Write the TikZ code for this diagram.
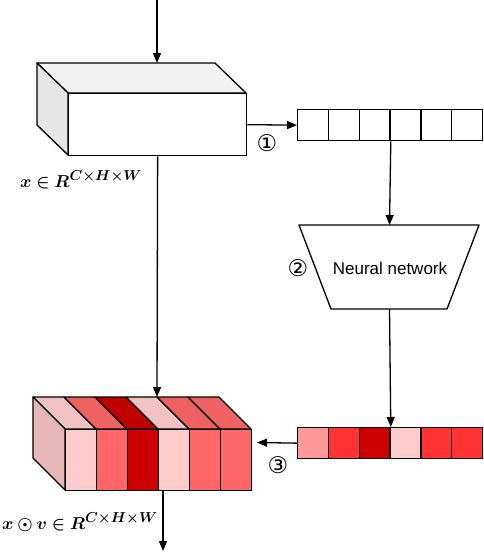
\documentclass[tikz,border=0pt]{standalone}
\usepackage{amsmath,bm}
\usepackage{fontspec}
\newfontfamily\arialf{Liberation Sans}
\newfontfamily\djv{DejaVu Sans}
\usetikzlibrary{arrows.meta}
\definecolor{topgray}{HTML}{F2F2F2}
\definecolor{sidegray}{HTML}{E6E6E6}
\definecolor{cA}{HTML}{FFCCCC}
\definecolor{cB}{HTML}{FF6666}
\definecolor{cC}{HTML}{CC0000}
\definecolor{tA}{HTML}{F2C2C2}
\definecolor{tB}{HTML}{EE6262}
\definecolor{tC}{HTML}{C00000}
\definecolor{sideRed}{HTML}{E6B8B8}
\definecolor{vA}{HTML}{FF9999}
\definecolor{vB}{HTML}{FF3333}
\definecolor{vC}{HTML}{CC0000}
\definecolor{vD}{HTML}{FFCCCC}
\tikzset{
  ln/.style={draw=black, line width=1.3pt},
  arr/.style={ln, -{Triangle[length=10pt,width=8pt]}},
  cell/.style={ln, minimum width=30.83pt, minimum height=31pt, inner sep=0pt, anchor=north west},
  stripe/.style={ln, minimum width=31pt, minimum height=61pt, inner sep=0pt, anchor=north west},
  face/.style={ln, line join=round},
  circ/.style={font=\djv\fontsize{23}{23}\selectfont, inner sep=0pt},
  mathlbl/.style={font=\fontsize{19}{22}\selectfont, inner sep=0pt},
}
\begin{document}
\begin{tikzpicture}[x=1pt,y=-1pt]
\useasboundingbox (0,0) rectangle (484,554);
% ---------- top cube ----------
\draw[face, fill=topgray] (68,93) -- (37,63) -- (215,63) -- (246,93) -- cycle;
\draw[face, fill=sidegray] (68,93) -- (37,63) -- (37,125) -- (68,155) -- cycle;
\node[ln, fill=white, minimum width=178pt, minimum height=62pt, inner sep=0pt, anchor=north west] (box1) at (68,93) {};
\coordinate (in) at (157,0);
\coordinate (b1top) at (157,63);
\draw[arr] (in) -- (b1top);
\node[mathlbl, anchor=base west] (lbl1) at (20,187) {$\boldsymbol{x\in R^{C\times H\times W}}$};
% ---------- top vector ----------
\foreach \i in {1,...,6} {
  \node[cell, fill=white] (u\i) at ({297+(\i-1)*30.83},109) {};
}
\draw[arr] (box1.east) -- (u1.west);
\node[circ] (n1) at (267,143) {①};
% ---------- neural network ----------
\coordinate (nntop) at (389.5,225);
\coordinate (nnbot) at (389.5,309);
\draw[face, fill=white] (299,225) -- (479,225) -- (447,309) -- (331,309) -- cycle;
\node[font=\arialf\fontsize{17}{17}\selectfont, inner sep=0pt] (nn) at (390,268) {Neural network};
\node[circ] (n2) at (298,268) {②};
\draw[arr] (u3.south east) -- (nntop);
% ---------- bottom vector ----------
\foreach \i/\c in {1/vA,2/vB,3/vC,4/vD,5/vB,6/vB} {
  \node[cell, fill=\c] (w\i) at ({297+(\i-1)*30.83},427) {};
}
\draw[arr] (nnbot) -- (w3.north east);
\coordinate (b3end) at (257,442.5);
\draw[arr] (w1.west) -- (b3end);
\node[circ] (n3) at (278,465) {③};
% ---------- bottom cube ----------
\foreach \i/\c in {1/tA,2/tB,3/tC,4/tA,5/tB,6/tB} {
  \draw[face, fill=\c] ({65+(\i-1)*31},429) -- ({33+(\i-1)*31},397) -- ({33+\i*31},397) -- ({65+\i*31},429) -- cycle;
}
\draw[face, fill=sideRed] (65,429) -- (33,397) -- (33,458) -- (65,490) -- cycle;
\foreach \i/\c in {1/cA,2/cB,3/cC,4/cA,5/cB,6/cB} {
  \node[stripe, fill=\c] (s\i) at ({65+(\i-1)*31},429) {};
}
\coordinate (b2top) at (157,397);
\draw[arr] (box1.south) -- (b2top);
\coordinate (b2bot) at (163,490);
\coordinate (out) at (163,551);
\draw[arr] (b2bot) -- (out);
\node[mathlbl, anchor=base west] (lbl2) at (2,529) {$\boldsymbol{x\odot v\in R^{C\times H\times W}}$};
\end{tikzpicture}
\end{document}
